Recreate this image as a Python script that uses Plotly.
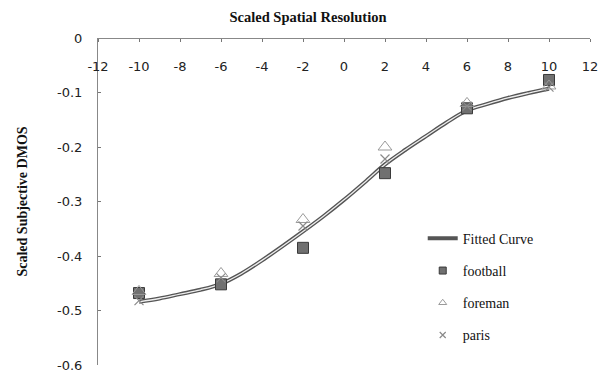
import plotly.graph_objects as go

# ---- data ----
x_points = [-10, -6, -2, 2, 6, 10]
football = [-0.468, -0.452, -0.385, -0.248, -0.129, -0.077]
foreman = [-0.465, -0.432, -0.333, -0.200, -0.120, -0.088]
paris = [-0.482, -0.440, -0.345, -0.222, -0.125, -0.090]

fit_x = [-10, -9, -8, -7, -6, -5, -4, -3, -2, -1, 0, 1, 2, 3, 4, 5, 6, 7, 8, 9, 10]
fit_y = [-0.484, -0.478, -0.470, -0.462, -0.451, -0.432, -0.408, -0.382, -0.355,
         -0.327, -0.297, -0.265, -0.232, -0.205, -0.180, -0.155, -0.133, -0.121,
         -0.110, -0.101, -0.093]

x_ticks = [-12, -10, -8, -6, -4, -2, 0, 2, 4, 6, 8, 10, 12]
x_ticktext = ["-12", "-10", "-8", "-6", "-4", "-2", "0", "2", "4", "6", "8", "10", "12"]
y_ticks = [0, -0.1, -0.2, -0.3, -0.4, -0.5, -0.6]
y_ticktext = ["0", "-0.1", "-0.2", "-0.3", "-0.4", "-0.5", "-0.6"]

serif = "Liberation Serif"
sans = "DejaVu Sans"

sq_style = dict(symbol="square", color="#707070", line=dict(color="#3a3a3a", width=1))
tri_style = dict(symbol="triangle-up-open", color="#9a9a9a", line=dict(width=1))
x_style = dict(symbol="x-thin-open", color="#8a8a8a", line=dict(color="#8a8a8a", width=1.2))

fig = go.Figure()

fig.add_trace(go.Scatter(
    x=fit_x, y=fit_y, mode="lines", name="Fitted Curve",
    line=dict(color="#555555", width=4, shape="spline"),
    legendgroup="a",
))
fig.add_trace(go.Scatter(
    x=fit_x, y=fit_y, mode="lines", showlegend=False,
    line=dict(color="#eeeeee", width=1.3, shape="spline"),
    hoverinfo="skip",
))
fig.add_trace(go.Scatter(
    x=x_points, y=football, mode="markers", showlegend=False,
    marker=dict(size=11, **sq_style),
))
fig.add_trace(go.Scatter(
    x=x_points, y=foreman, mode="markers", showlegend=False,
    marker=dict(size=12, **tri_style),
))
fig.add_trace(go.Scatter(
    x=x_points, y=paris, mode="markers", showlegend=False,
    marker=dict(size=9, **x_style),
))
# legend entries with smaller symbols, like the reference
fig.add_trace(go.Scatter(x=[None], y=[None], mode="markers", name="football",
                         marker=dict(size=7, **sq_style), legendgroup="b"))
fig.add_trace(go.Scatter(x=[None], y=[None], mode="markers", name="foreman",
                         marker=dict(size=7, **tri_style), legendgroup="c"))
fig.add_trace(go.Scatter(x=[None], y=[None], mode="markers", name="paris",
                         marker=dict(size=6, **x_style), legendgroup="d"))

fig.update_layout(
    width=608, height=381,
    margin=dict(l=98, r=18, t=38, b=8),
    paper_bgcolor="white", plot_bgcolor="white",
    showlegend=True,
    legend=dict(
        x=0.66, y=0.435, xanchor="left", yanchor="top",
        font=dict(family=serif, size=14, color="#111111"),
        traceorder="grouped", tracegroupgap=11,
        bgcolor="rgba(0,0,0,0)", itemwidth=30,
    ),
    title=dict(
        text="<b>Scaled Spatial Resolution</b>",
        font=dict(family=serif, size=14.5, color="#111111"),
        x=308 / 608, xanchor="center", y=1 - 17 / 381, yanchor="middle",
    ),
    xaxis=dict(
        range=[-12, 12], side="bottom", anchor="free", position=1,
        tickvals=x_ticks, ticktext=x_ticktext,
        ticks="outside", ticklen=3, tickcolor="#777777",
        ticklabelstandoff=13,
        tickfont=dict(family=sans, size=13, color="#222222"),
        showline=True, linecolor="#888888", linewidth=1,
        showgrid=False, zeroline=False,
    ),
    yaxis=dict(
        range=[-0.6, 0], domain=[0, 1],
        tickvals=y_ticks, ticktext=y_ticktext,
        ticks="inside", ticklen=3, tickcolor="#777777",
        ticklabelstandoff=12,
        tickfont=dict(family=sans, size=13, color="#222222"),
        showline=True, linecolor="#888888", linewidth=1,
        showgrid=False, zeroline=False,
        title=dict(text="<b>Scaled Subjective DMOS</b>",
                   font=dict(family=serif, size=14, color="#111111"),
                   standoff=26),
    ),
)

fig.write_html("out.html")
